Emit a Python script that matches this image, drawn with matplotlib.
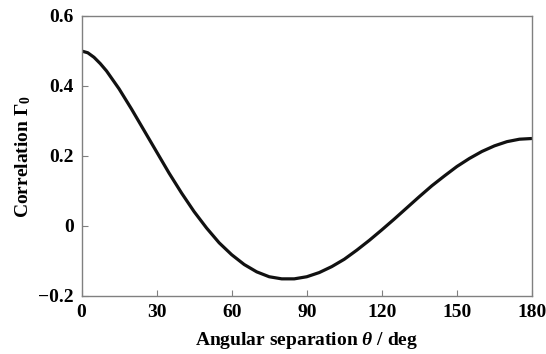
import matplotlib
matplotlib.use("Agg")
import matplotlib.pyplot as plt

# Values (angular separation in degrees, correlation)
theta_deg = [0, 2.5, 5, 7.5, 10, 15, 20, 25, 30, 35, 40, 45, 50, 55, 60, 65, 70, 75, 80, 85, 90,
             95, 100, 105, 110, 115, 120, 125, 130, 135, 140, 145, 150, 155, 160, 165,
             170, 175, 180]
correlation = [0.500, 0.495, 0.482, 0.464, 0.443, 0.392, 0.334, 0.273, 0.212, 0.151, 0.094, 0.041,
               -0.006, -0.048, -0.082, -0.110, -0.131, -0.145, -0.151, -0.151, -0.145,
               -0.133, -0.116, -0.095, -0.069, -0.041, -0.011, 0.020, 0.052, 0.084,
               0.115, 0.143, 0.170, 0.193, 0.213, 0.229, 0.241, 0.248, 0.250]
xticks = [0, 30, 60, 90, 120, 150, 180]
yticks = [-0.2, 0, 0.2, 0.4, 0.6]
ytick_labels = ["\u22120.2", "0", "0.2", "0.4", "0.6"]

plt.rcParams["font.family"] = ["Liberation Serif", "DejaVu Serif"]
plt.rcParams["font.weight"] = "bold"
plt.rcParams["mathtext.fontset"] = "custom"
plt.rcParams["mathtext.rm"] = "Liberation Serif:bold"
plt.rcParams["mathtext.bf"] = "Liberation Serif:bold"
plt.rcParams["mathtext.it"] = "Liberation Serif:italic:bold"

fig = plt.figure(figsize=(5.46, 3.54), dpi=100)
ax = fig.add_axes([81.5 / 546, 1 - 296 / 354, (532 - 81.5) / 546, (296 - 16) / 354])

ax.plot(theta_deg, correlation, color="#111111", lw=2.3, solid_capstyle="butt",
        solid_joinstyle="round")
ax.set_xlim(0, 180)
ax.set_ylim(-0.2, 0.6)
ax.set_xticks(xticks)
ax.set_xticklabels([str(t) for t in xticks])
ax.set_yticks(yticks)
ax.set_yticklabels(ytick_labels)

for s in ax.spines.values():
    s.set_color("#808080")
    s.set_linewidth(1.0)
ax.tick_params(direction="in", length=4, width=0.8, color="#808080",
               labelsize=14, pad=5.5)
for lbl in ax.get_xticklabels() + ax.get_yticklabels():
    lbl.set_fontweight("bold")

ax.set_xlabel(r"Angular separation $\theta$ / deg", fontsize=14, fontweight="bold", labelpad=7)
ax.set_ylabel(r"Correlation $\Gamma_0$", fontsize=14, fontweight="bold", labelpad=4)

fig.savefig("out.png", dpi=100)
